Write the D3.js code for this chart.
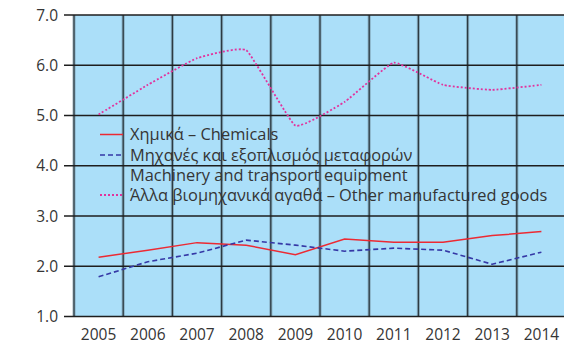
<!DOCTYPE html>
<html>
<head>
<meta charset="utf-8">
<script src="https://cdn.jsdelivr.net/npm/d3@7/dist/d3.min.js"></script>
<style>
  html, body { margin: 0; padding: 0; background: #fff; }
  svg { display: block; }
  text { font-family: "Open Sans", "Noto Sans", sans-serif; fill: #353535; }
</style>
</head>
<body>
<svg id="chart" width="564" height="346"></svg>
<script>
// Years on the category axis
const years = ["2005","2006","2007","2008","2009","2010","2011","2012","2013","2014"];

// Series values
const chemicals = [2.18, 2.32, 2.47, 2.42, 2.23, 2.54, 2.48, 2.48, 2.61, 2.69];
const machinery = [1.79, 2.09, 2.26, 2.52, 2.42, 2.30, 2.36, 2.32, 2.04, 2.28];
const otherGoods = [5.02, 5.61, 6.14, 6.30, 4.80, 5.27, 6.05, 5.61, 5.51, 5.61];

// Y tick values
const yTicks = [1, 2, 3, 4, 5, 6, 7];

// Legend entries
const legendLabels = [
  ["Χημικά – Chemicals"],
  ["Μηχανές και εξοπλισμός μεταφορών", "Machinery and transport equipment"],
  ["Άλλα βιομηχανικά αγαθά – Other manufactured goods"]
];

const svg = d3.select("#chart");
const plotL = 74, plotR = 566, plotT = 15, plotB = 316.5;

const x = d3.scaleBand().domain(years).range([plotL, plotR]);
const y = d3.scaleLinear().domain([1, 7]).range([plotB, plotT]);

// Plot background
svg.append("rect")
  .attr("x", plotL).attr("y", plotT)
  .attr("width", plotR - plotL).attr("height", plotB - plotT)
  .attr("fill", "#abdff9");

// Vertical gridlines at category boundaries (soft halo + core)
const vBounds = years.map(d => x(d)).concat([plotR]);
const vg = svg.append("g");
vg.selectAll("line.halo").data(vBounds).join("line")
  .attr("class", "halo")
  .attr("x1", d => d).attr("x2", d => d)
  .attr("y1", plotT).attr("y2", plotB)
  .attr("stroke", "#6f8a99").attr("stroke-width", 3.2).attr("stroke-opacity", 0.55);
vg.selectAll("line.core").data(vBounds).join("line")
  .attr("class", "core")
  .attr("x1", d => d).attr("x2", d => d)
  .attr("y1", plotT).attr("y2", plotB)
  .attr("stroke", "#2c3a42").attr("stroke-width", 1.3);

// Horizontal gridlines with left tick marks
const hg = svg.append("g");
hg.selectAll("line").data(yTicks).join("line")
  .attr("x1", plotL - 10).attr("x2", plotR)
  .attr("y1", d => y(d)).attr("y2", d => y(d))
  .attr("stroke", "#1e1e1e").attr("stroke-width", 1.5);

// Y axis labels
svg.append("g").selectAll("text").data(yTicks).join("text")
  .attr("x", 58).attr("y", d => y(d))
  .attr("dy", "0.36em")
  .attr("text-anchor", "end")
  .attr("font-size", 15.5)
  .text(d => d.toFixed(1));

// X axis labels
svg.append("g").selectAll("text").data(years).join("text")
  .attr("x", d => x(d) + x.bandwidth() / 2)
  .attr("y", 334.5)
  .attr("dy", "0.36em")
  .attr("text-anchor", "middle")
  .attr("font-size", 15.5)
  .text(d => d);

const cx = (d, i) => x(years[i]) + x.bandwidth() / 2;

// Chemicals – straight solid line
svg.append("path")
  .datum(chemicals)
  .attr("d", d3.line().x(cx).y(d => y(d)))
  .attr("fill", "none").attr("stroke", "#ec2a33").attr("stroke-width", 1.5);

// Machinery – straight dashed line
svg.append("path")
  .datum(machinery)
  .attr("d", d3.line().x(cx).y(d => y(d)))
  .attr("fill", "none").attr("stroke", "#3538a6").attr("stroke-width", 1.6)
  .attr("stroke-dasharray", "5,3");

// Other manufactured goods – lightly smoothed dotted line
svg.append("path")
  .datum(otherGoods)
  .attr("d", d3.line().x(cx).y(d => y(d)).curve(d3.curveCardinal.tension(0.65)))
  .attr("fill", "none").attr("stroke", "#e2339d").attr("stroke-width", 1.8)
  .attr("stroke-dasharray", "2,2");

// Legend
const lg = svg.append("g");
const legendStyles = [
  { color: "#ec2a33", dash: null, width: 1.5, y: 134.5 },
  { color: "#3538a6", dash: "5,3", width: 1.6, y: 155 },
  { color: "#e2339d", dash: "2,2", width: 1.8, y: 195 }
];
legendLabels.forEach((lines, i) => {
  const s = legendStyles[i];
  lg.append("line")
    .attr("x1", 100).attr("x2", 123)
    .attr("y1", s.y).attr("y2", s.y)
    .attr("stroke", s.color).attr("stroke-width", s.width)
    .attr("stroke-dasharray", s.dash);
  lines.forEach((t, j) => {
    lg.append("text")
      .attr("x", 130).attr("y", s.y + j * 20)
      .attr("dy", "0.36em")
      .attr("font-size", 16.4)
      .text(t);
  });
});
</script>
</body>
</html>
